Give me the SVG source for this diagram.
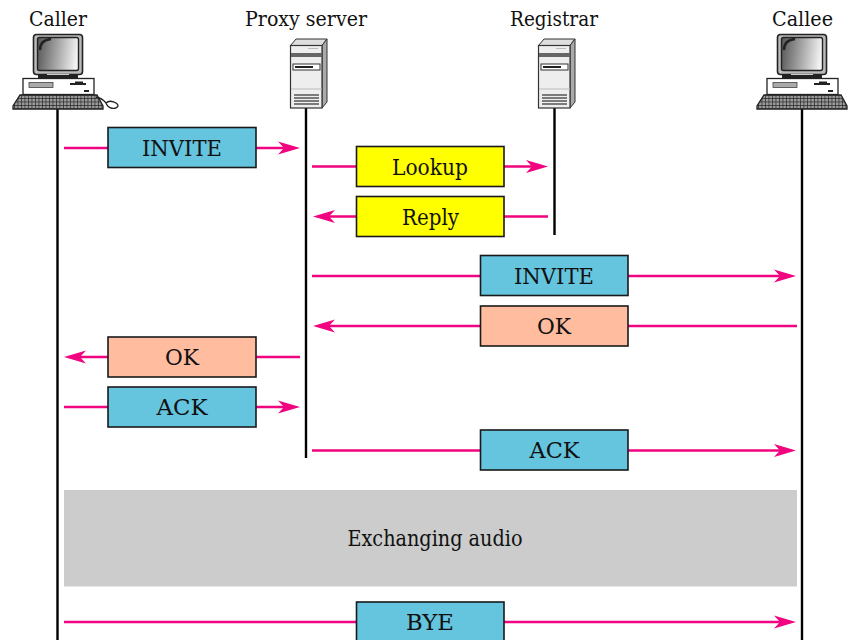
<svg xmlns="http://www.w3.org/2000/svg" width="848" height="640" viewBox="0 0 848 640">
<style>
text{font-family:"DejaVu Serif",serif;fill:#111;text-anchor:middle;lengthAdjust:spacingAndGlyphs}
.t{font-size:21.5px}
.h{font-size:20.5px}
.ll{stroke:#000;stroke-width:2.4;fill:none}
.m{stroke:#f0047f;stroke-width:2.4;fill:none}
.ah{fill:#f0047f;stroke:none}
.box{stroke:#1a1a1a;stroke-width:1.6}
.blue{fill:#65c4de}.yel{fill:#ffff00}.sal{fill:#ffbc9f}
.o{stroke:#222;stroke-width:1.300;fill:#fff}
.k{fill:#222;stroke:none}
</style>
<defs>
<linearGradient id="scr" x1="0" x2="1" y1="0" y2="0.1"><stop offset="0" stop-color="#555"/><stop offset="0.55" stop-color="#aaa"/><stop offset="1" stop-color="#f2f2f2"/></linearGradient>
<pattern id="kb" width="3.500" height="3.500" patternUnits="userSpaceOnUse"><rect width="3.500" height="3.500" fill="#999"/><path d="M0 0H3.500M0 0V3.500" stroke="#222" stroke-width="1.300"/></pattern>
<path id="ar" class="ah" d="M0 0L-22-6.5L-16 0L-22 6.5Z"/>
<path id="al" class="ah" d="M0 0L22-6.5L16 0L22 6.5Z"/>
<g id="pc">
<rect x="33.500" y="34.500" width="49" height="40" rx="3" fill="#bbb" stroke="#222" stroke-width="1.600"/>
<rect x="37.500" y="37.500" width="41" height="33" rx="2" fill="url(#scr)" stroke="#222" stroke-width="1.400"/>
<path d="M40 50Q40 40 51 39" stroke="#222" stroke-width="2.400" fill="none"/>
<rect x="47" y="74" width="22" height="2.500" fill="#ccc"/>
<rect x="38" y="75" width="40" height="3.500" fill="#222"/>
<rect class="o" x="23" y="78.500" width="71" height="16"/>
<rect x="29" y="82.500" width="24" height="5" fill="#aaa" stroke="#444" stroke-width="0.8"/>
<rect class="k" x="70" y="83" width="16" height="2"/>
<rect class="k" x="75" y="81.500" width="8" height="1.500"/>
<rect class="k" x="84" y="90" width="5" height="2"/>
<path d="M20 95H97L103 106V109H13V106Z" fill="url(#kb)" stroke="#222" stroke-width="1.300"/>
</g>
<g id="srv">
<path d="M290.500 45.500L296 39H327L322 45.500Z" fill="#ddd" stroke="#333"/>
<path d="M322 45.500L327 39V102L322 108Z" fill="#aaa" stroke="#333"/>
<rect x="290.500" y="45.500" width="31.500" height="62.500" fill="#eee" stroke="#333" stroke-width="1.200"/>
<rect x="291" y="53" width="31" height="4" fill="#666"/>
<rect x="293" y="64" width="27" height="6" fill="#fff" stroke="#333"/>
<rect x="295" y="66" width="18" height="2" fill="#222"/>
<path d="M291 89H322" stroke="#bbb"/>
<path d="M294 95H319M294 98H319M294 101H319M294 104H319" stroke="#555" stroke-width="1.400"/>
<path d="M308 48.500H318" stroke="#bbb"/>
</g>
</defs>

<g id="connectors">
<path class="ll" d="M57.500 108V640M306 108V458M554.500 108V235M802 108V640"/>
<path class="m" d="M64 148H108M256 148H285"/><use href="#ar" x="300" y="148"/>
<path class="m" d="M312 166.500H356M504 166.500H533"/><use href="#ar" x="548" y="166.500"/>
<path class="m" d="M548 216.500H504M356 216.500H328"/><use href="#al" x="313" y="216.500"/>
<path class="m" d="M312 276H480M628 276H781"/><use href="#ar" x="796" y="276"/>
<path class="m" d="M797 326H628M480 326H328"/><use href="#al" x="313" y="326"/>
<path class="m" d="M300 357H256M108 357H80"/><use href="#al" x="64" y="357"/>
<path class="m" d="M64 407H108M256 407H285"/><use href="#ar" x="300" y="407"/>
<path class="m" d="M312 450.500H480M628 450.500H781"/><use href="#ar" x="796" y="450.500"/>
<path class="m" d="M64 622H356M504 622H781"/><use href="#ar" x="796" y="622"/>
</g>

<g id="caller"><text class="h" x="58" y="25.500" textLength="58" lengthAdjust="spacingAndGlyphs">Caller</text><use href="#pc"/>
<path d="M96 97Q102 98 106 103C110 99 118 103 118 106C116 110 108 109 106 103" fill="none" stroke="#222" stroke-width="1.300"/></g>
<g id="proxy"><text class="h" x="306" y="25.500" textLength="122" lengthAdjust="spacingAndGlyphs">Proxy server</text><use href="#srv"/></g>
<g id="registrar"><text class="h" x="554" y="25.500" textLength="88" lengthAdjust="spacingAndGlyphs">Registrar</text><use href="#srv" x="248"/></g>
<g id="callee"><text class="h" x="802.500" y="25.500" textLength="61" lengthAdjust="spacingAndGlyphs">Callee</text><use href="#pc" x="744"/></g>

<g id="n-invite1"><rect class="box blue" x="108" y="127.500" width="148" height="40"/><text class="t" x="182" y="155.500" textLength="80" lengthAdjust="spacingAndGlyphs">INVITE</text></g>
<g id="n-lookup"><rect class="box yel" x="356.500" y="146.500" width="147.500" height="40"/><text class="t" x="430" y="174.500" textLength="76" lengthAdjust="spacingAndGlyphs">Lookup</text></g>
<g id="n-reply"><rect class="box yel" x="356.500" y="196.500" width="147.500" height="40"/><text class="t" x="430.500" y="224.500" textLength="57" lengthAdjust="spacingAndGlyphs">Reply</text></g>
<g id="n-invite2"><rect class="box blue" x="480.500" y="255.500" width="147.500" height="40"/><text class="t" x="554" y="283.500" textLength="80" lengthAdjust="spacingAndGlyphs">INVITE</text></g>
<g id="n-ok2"><rect class="box sal" x="480.500" y="306" width="147.500" height="40"/><text class="t" x="554" y="333.500" textLength="34" lengthAdjust="spacingAndGlyphs">OK</text></g>
<g id="n-ok1"><rect class="box sal" x="108" y="337" width="148" height="40"/><text class="t" x="182" y="364.500" textLength="34" lengthAdjust="spacingAndGlyphs">OK</text></g>
<g id="n-ack1"><rect class="box blue" x="108" y="387" width="148" height="40"/><text class="t" x="182" y="414.500" textLength="51" lengthAdjust="spacingAndGlyphs">ACK</text></g>
<g id="n-ack2"><rect class="box blue" x="480.500" y="430" width="147.500" height="40"/><text class="t" x="554.500" y="458" textLength="50" lengthAdjust="spacingAndGlyphs">ACK</text></g>
<g id="n-audio"><rect x="64" y="490" width="733" height="96.500" fill="#cccccc"/><text class="t" x="435" y="546" textLength="175" lengthAdjust="spacingAndGlyphs">Exchanging audio</text></g>
<g id="n-bye"><rect class="box blue" x="356.500" y="602" width="147.500" height="40"/><text class="t" x="430" y="630" textLength="48" lengthAdjust="spacingAndGlyphs">BYE</text></g>
</svg>
